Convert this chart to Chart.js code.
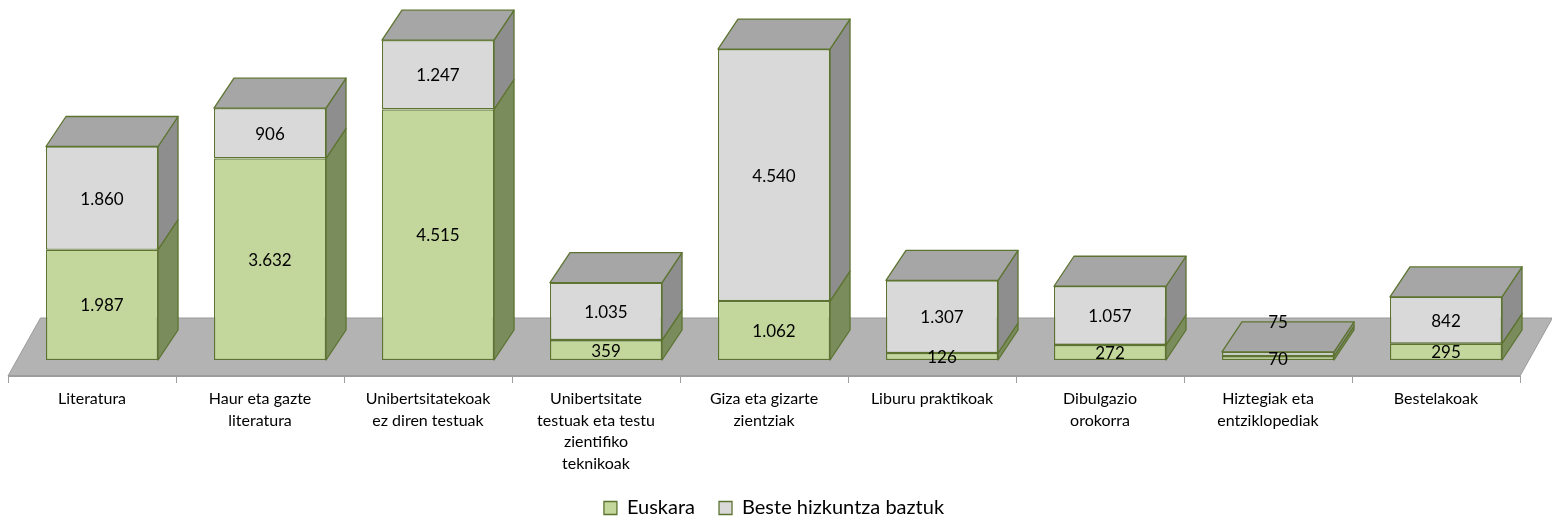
<!DOCTYPE html>
<html>
<head>
<meta charset="utf-8">
<script src="https://cdn.jsdelivr.net/npm/chart.js@4"></script>
<style>
  html, body { margin: 0; padding: 0; background: #fff; }
  #wrap { width: 1552px; height: 519px; }
</style>
</head>
<body>
<div id="wrap"><canvas id="chart" width="1552" height="519"></canvas></div>
<script>
const categories = [
    "Literatura",
    ["Haur eta gazte", "literatura"],
    ["Unibertsitatekoak", "ez diren testuak"],
    ["Unibertsitate", "testuak eta testu", "zientifiko", "teknikoak"],
    ["Giza eta gizarte", "zientziak"],
    "Liburu praktikoak",
    ["Dibulgazio", "orokorra"],
    ["Hiztegiak eta", "entziklopediak"],
    "Bestelakoak"
];
const euskara = [1987, 3632, 4515, 359, 1062, 126, 272, 70, 295];
const beste = [1860, 906, 1247, 1035, 4540, 1307, 1057, 75, 842];
const seriesNames = ["Euskara", "Beste hizkuntza baztuk"];

const DX = 20, DY = -30;
const OLIVE = "#5d7431";
const FONT = "Lato, 'DejaVu Sans', sans-serif";

function fmt(v) {
    return v.toLocaleString("de-DE");
}

const box3d = {
    id: "box3d",
    beforeDatasetsDraw(chart) {
        const ctx = chart.ctx;
        const xs = chart.scales.x;
        const area = chart.chartArea;
        const step = xs.getPixelForValue(1) - xs.getPixelForValue(0);
        const left = xs.getPixelForValue(0) - step / 2 - DX / 2;
        const right = xs.getPixelForValue(categories.length - 1) + step / 2 - DX / 2;
        const front = area.bottom + 16;
        const back = area.bottom - 42;
        const fx = (front - back) * 0.56;

        // floor
        ctx.save();
        ctx.beginPath();
        ctx.moveTo(left, front);
        ctx.lineTo(left + fx, back);
        ctx.lineTo(right + fx, back);
        ctx.lineTo(right, front);
        ctx.closePath();
        ctx.fillStyle = "#b3b3b3";
        ctx.fill();
        ctx.strokeStyle = "#9a9a9a";
        ctx.lineWidth = 1;
        ctx.stroke();
        ctx.fillStyle = "#9c9c9c";
        ctx.fillRect(left, front - 1, right - left, 2);

        // axis ticks
        ctx.strokeStyle = "#a0a0a0";
        ctx.beginPath();
        for (let k = 0; k <= categories.length; k++) {
            const x = Math.round(left + k * step) + 0.5;
            ctx.moveTo(x, front);
            ctx.lineTo(x, front + 7);
        }
        ctx.stroke();

        // side and top faces
        const m0 = chart.getDatasetMeta(0).data;
        const m1 = chart.getDatasetMeta(1).data;
        ctx.lineWidth = 1.3;
        ctx.strokeStyle = OLIVE;
        ctx.lineJoin = "round";
        for (let i = 0; i < m0.length; i++) {
            const segs = [[m0[i], "#7a8b5c"], [m1[i], "#8e8e8e"]];
            segs.forEach(([el, col]) => {
                const r = el.x + el.width / 2;
                ctx.beginPath();
                ctx.moveTo(r, el.y);
                ctx.lineTo(r + DX, el.y + DY);
                ctx.lineTo(r + DX, el.base + DY);
                ctx.lineTo(r, el.base);
                ctx.closePath();
                ctx.fillStyle = col;
                ctx.fill();
                ctx.stroke();
            });
            const top = m1[i];
            const l = top.x - top.width / 2, r = top.x + top.width / 2;
            ctx.beginPath();
            ctx.moveTo(l, top.y);
            ctx.lineTo(l + DX, top.y + DY);
            ctx.lineTo(r + DX, top.y + DY);
            ctx.lineTo(r, top.y);
            ctx.closePath();
            ctx.fillStyle = "#a6a6a6";
            ctx.fill();
            ctx.stroke();
        }
        ctx.restore();
    },
    afterDatasetsDraw(chart) {
        const ctx = chart.ctx;
        ctx.save();
        ctx.font = "17px " + FONT;
        ctx.fillStyle = "#000";
        ctx.textAlign = "center";
        ctx.textBaseline = "middle";
        chart.data.datasets.forEach((ds, d) => {
            chart.getDatasetMeta(d).data.forEach((el, i) => {
                let y = (el.y + el.base) / 2;
                if (d === 1 && el.base - el.y < 12) y = el.y + DY;
                ctx.fillText(fmt(ds.data[i]), el.x, y + 1);
            });
        });
        ctx.restore();
    }
};

new Chart(document.getElementById("chart"), {
    type: "bar",
    data: {
        labels: categories,
        datasets: [
            { label: seriesNames[0], data: euskara, backgroundColor: "#c3d69b", borderColor: OLIVE, borderWidth: 1.3, borderSkipped: false },
            { label: seriesNames[1], data: beste, backgroundColor: "#d9d9d9", borderColor: OLIVE, borderWidth: 1.3, borderSkipped: false }
        ]
    },
    options: {
        responsive: false,
        animation: false,
        layout: { padding: { left: 18, right: 22, top: 27, bottom: -9 } },
        datasets: { bar: { categoryPercentage: 1, barPercentage: 0.667 } },
        scales: {
            x: {
                stacked: true,
                grid: { display: false, drawTicks: false },
                border: { display: false },
                ticks: {
                    padding: 28,
                    labelOffset: -DX / 2,
                    maxRotation: 0,
                    autoSkip: false,
                    color: "#000",
                    font: { family: FONT, size: 16, lineHeight: 1.35 }
                },
                afterFit: (s) => { s.height = 114; }
            },
            y: {
                stacked: true,
                display: false,
                min: 0,
                max: 6000
            }
        },
        plugins: {
            legend: {
                position: "bottom",
                labels: {
                    color: "#000",
                    boxWidth: 13,
                    boxHeight: 13,
                    padding: 24,
                    font: { family: FONT, size: 20 }
                }
            },
            tooltip: { enabled: false }
        }
    },
    plugins: [box3d]
});
</script>
</body>
</html>
